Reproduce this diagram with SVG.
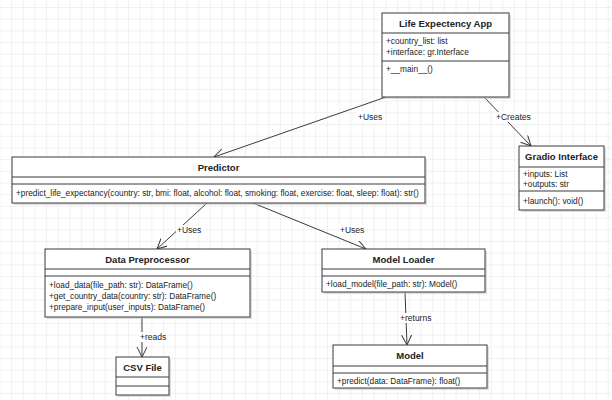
<svg xmlns="http://www.w3.org/2000/svg" width="612" height="400" viewBox="0 0 612 400">
<defs>
<pattern id="grid" x="11" y="7" width="11.7" height="11.7" patternUnits="userSpaceOnUse">
<path d="M11.7 0 L0 0 L0 11.7" fill="none" stroke="#e4e4e4" stroke-width="1"/>
</pattern>
<marker id="open" markerWidth="12" markerHeight="12" refX="10" refY="5" orient="auto" markerUnits="userSpaceOnUse">
<path d="M0 0 L10 5 L0 10" fill="none" stroke="#3a3a3a" stroke-width="1"/>
</marker>
</defs>
<style>
.box{fill:#fff;stroke:#3a3a3a;stroke-width:1}
.sh{fill:#c8c8c8;opacity:0.6}
.div{stroke:#3a3a3a;stroke-width:1}
.t{font-family:"Liberation Sans",Arial,sans-serif;font-size:9.5px;font-weight:bold;fill:#222;text-anchor:middle}
.m{font-family:"Liberation Sans",Arial,sans-serif;font-size:8.3px;fill:#222}
.lbl{font-family:"Liberation Sans",Arial,sans-serif;font-size:8.5px;fill:#222}
.lb{fill:#fff}
.edge{fill:none;stroke:#3a3a3a;stroke-width:1;marker-end:url(#open)}
</style>
<rect width="612" height="400" fill="#fff"/>
<rect width="612" height="400" fill="url(#grid)"/>

<g id="connectors">
<line class="edge" x1="386" y1="97" x2="214" y2="157"/>
<line class="edge" x1="484" y1="97" x2="531" y2="146"/>
<line class="edge" x1="207" y1="203" x2="157" y2="249"/>
<line class="edge" x1="253" y1="203" x2="366" y2="249"/>
<line class="edge" x1="405" y1="292" x2="407" y2="345"/>
<line class="edge" x1="142" y1="317" x2="142" y2="357"/>
<rect class="lb" x="357" y="112" width="26" height="10"/>
<rect class="lb" x="495" y="112" width="36" height="10"/>
<rect class="lb" x="176" y="225" width="26" height="10"/>
<rect class="lb" x="339" y="225" width="26" height="10"/>
<rect class="lb" x="399" y="313" width="34" height="10"/>
<rect class="lb" x="139" y="332" width="28" height="10"/>
<text class="lbl" x="358" y="120">+Uses</text>
<text class="lbl" x="496" y="120">+Creates</text>
<text class="lbl" x="177" y="233">+Uses</text>
<text class="lbl" x="340" y="233">+Uses</text>
<text class="lbl" x="400" y="321">+returns</text>
<text class="lbl" x="140" y="340">+reads</text>
</g>

<g id="life-expectency-app">
<rect class="sh" x="384" y="15" width="127" height="84"/>
<rect class="box" x="382" y="13" width="127" height="84"/>
<line class="div" x1="382" y1="33" x2="509" y2="33"/>
<line class="div" x1="382" y1="61" x2="509" y2="61"/>
<text class="t" x="445.5" y="26.5">Life Expectency App</text>
<text class="m" x="386" y="44">+country_list: list</text>
<text class="m" x="386" y="55">+interface: gr.Interface</text>
<text class="m" x="386" y="72">+__main__()</text>
</g>

<g id="gradio-interface">
<rect class="sh" x="521" y="148" width="85" height="64"/>
<rect class="box" x="519" y="146" width="85" height="64"/>
<line class="div" x1="519" y1="167" x2="604" y2="167"/>
<line class="div" x1="519" y1="191" x2="604" y2="191"/>
<text class="t" x="561.5" y="160">Gradio Interface</text>
<text class="m" x="523" y="177">+inputs: List</text>
<text class="m" x="523" y="187">+outputs: str</text>
<text class="m" x="523" y="204">+launch(): void()</text>
</g>

<g id="predictor">
<rect class="sh" x="14" y="159" width="413" height="46"/>
<rect class="box" x="12" y="157" width="413" height="46"/>
<line class="div" x1="12" y1="177" x2="425" y2="177"/>
<line class="div" x1="12" y1="184" x2="425" y2="184"/>
<text class="t" x="218.5" y="170.5">Predictor</text>
<text class="m" x="16" y="196">+predict_life_expectancy(country: str, bmi: float, alcohol: float, smoking: float, exercise: float, sleep: float): str()</text>
</g>

<g id="data-preprocessor">
<rect class="sh" x="47" y="251" width="205" height="68"/>
<rect class="box" x="45" y="249" width="205" height="68"/>
<line class="div" x1="45" y1="269" x2="250" y2="269"/>
<line class="div" x1="45" y1="276" x2="250" y2="276"/>
<text class="t" x="147.5" y="262.5">Data Preprocessor</text>
<text class="m" x="49" y="288">+load_data(file_path: str): DataFrame()</text>
<text class="m" x="49" y="299">+get_country_data(country: str): DataFrame()</text>
<text class="m" x="49" y="310">+prepare_input(user_inputs): DataFrame()</text>
</g>

<g id="model-loader">
<rect class="sh" x="324" y="251" width="163" height="43"/>
<rect class="box" x="322" y="249" width="163" height="43"/>
<line class="div" x1="322" y1="269" x2="485" y2="269"/>
<line class="div" x1="322" y1="276" x2="485" y2="276"/>
<text class="t" x="403.5" y="262.5">Model Loader</text>
<text class="m" x="326" y="287">+load_model(file_path: str): Model()</text>
</g>

<g id="model">
<rect class="sh" x="335" y="347" width="154" height="43"/>
<rect class="box" x="333" y="345" width="154" height="43"/>
<line class="div" x1="333" y1="366" x2="487" y2="366"/>
<line class="div" x1="333" y1="373" x2="487" y2="373"/>
<text class="t" x="410" y="359">Model</text>
<text class="m" x="337" y="384">+predict(data: DataFrame): float()</text>
</g>

<g id="csv-file">
<rect class="sh" x="118" y="359" width="53" height="38"/>
<rect class="box" x="116" y="357" width="53" height="38"/>
<line class="div" x1="116" y1="377" x2="169" y2="377"/>
<line class="div" x1="116" y1="386" x2="169" y2="386"/>
<text class="t" x="142.5" y="370.5">CSV File</text>
</g>
</svg>
